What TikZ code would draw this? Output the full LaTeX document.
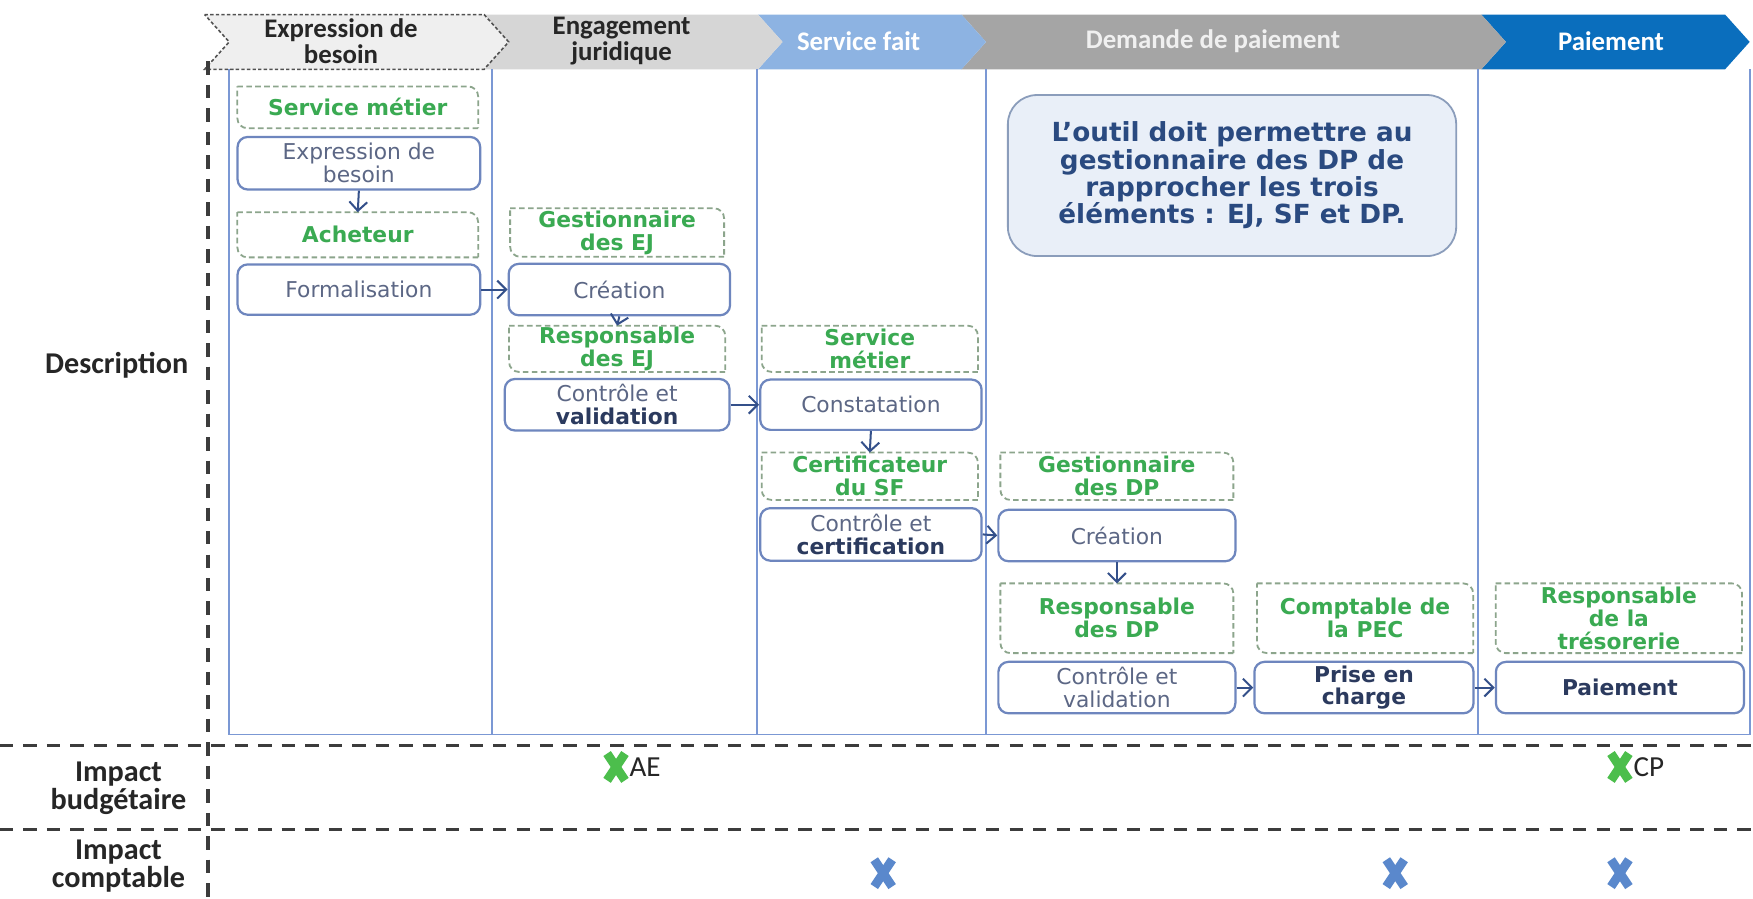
\documentclass[tikz,border=0pt]{standalone}
\usepackage{fontspec}
\setmainfont{DejaVu Sans}
\newfontfamily\dv{DejaVu Sans}
\newfontfamily\cb{Carlito}
\usetikzlibrary{arrows.meta}
\definecolor{rolegreen}{RGB}{58,170,82}
\definecolor{roleborder}{RGB}{140,165,140}
\definecolor{actborder}{RGB}{110,134,190}
\definecolor{acttext}{RGB}{92,103,133}
\definecolor{actbold}{RGB}{43,58,94}
\definecolor{arrowcol}{RGB}{52,80,138}
\definecolor{lanecol}{RGB}{123,152,212}
\definecolor{notefill}{RGB}{233,239,248}
\definecolor{noteborder}{RGB}{139,157,187}
\definecolor{notetext}{RGB}{42,74,128}
\definecolor{chevA}{RGB}{239,239,239}
\definecolor{chevB}{RGB}{214,214,214}
\definecolor{chevC}{RGB}{141,179,226}
\definecolor{chevD}{RGB}{165,165,165}
\definecolor{chevE}{RGB}{10,110,189}
\definecolor{darktext}{RGB}{38,38,38}
\definecolor{xgreen}{RGB}{76,190,76}
\definecolor{xblue}{RGB}{90,136,204}
\newcommand\drawrole[1]{%
  \draw[rolebd] (#1.north west) -- (#1.north east) -- (#1.south east);
  \draw[rolebd] (#1.south east) -- (#1.south west) -- (#1.north west);}
\begin{document}
\begin{tikzpicture}[x=1pt,y=-1pt,
  rolebox/.style={inner sep=0pt, align=center, text=rolegreen,
    font=\dv\bfseries\fontsize{19.5}{20.5}\selectfont},
  rolebd/.style={draw=roleborder, line width=1.6pt, dash pattern=on 5pt off 3pt, rounded corners=9pt},
  actbox/.style={draw=actborder, line width=2pt, rounded corners=9pt, fill=white, inner sep=0pt,
    align=center, text=acttext, font=\dv\fontsize{19.5}{20.5}\selectfont},
  arr/.style={draw=arrowcol, line width=1.8pt, -{Straight Barb[length=8pt,width=16pt]}},
  lane/.style={draw=lanecol, line width=1.6pt},
  bigdash/.style={draw=darktext!90, line width=3pt, dash pattern=on 12pt off 9pt},
  hdr/.style={align=center, font=\cb\bfseries\fontsize{24}{23}\selectfont},
  side/.style={align=center, text=darktext, font=\cb\bfseries\fontsize{27}{25}\selectfont},
  xmk/.style={line width=8pt}
]
\useasboundingbox (0,0) rectangle (1568,804);
\fill[white] (0,0) rectangle (1568,804);

% header chevrons
\fill[chevE] (1325,13) -- (1543,13) -- (1565,37.5) -- (1543,62) -- (1325,62) -- (1347,37.5) -- cycle;
\fill[chevD] (860,13) -- (1325,13) -- (1347,37.5) -- (1325,62) -- (860,62) -- (882,37.5) -- cycle;
\fill[chevC] (678,13) -- (860,13) -- (882,37.5) -- (860,62) -- (678,62) -- (700,37.5) -- cycle;
\fill[chevB] (433,13) -- (678,13) -- (700,37.5) -- (678,62) -- (433,62) -- (455,37.5) -- cycle;
\filldraw[fill=chevA, draw=darktext!80, line width=1.4pt, dash pattern=on 3pt off 2pt]
  (183,13) -- (433,13) -- (455,37.5) -- (433,62) -- (183,62) -- (205,37.5) -- cycle;
\node[hdr, text=darktext] (h1) at (305,37) {Expression de\\besoin};
\node[hdr, text=darktext] (h2) at (556,37) {Engagement\\juridique};
\node[hdr, text=white] (h3) at (768,37) {Service fait};
\node[hdr, text=white!94!black] (h4) at (1085,37) {Demande de paiement};
\node[hdr, text=white] (h5) at (1441,37) {Paiement};

% lanes
\draw[lane] (205,62) -- (205,657) -- (1565,657) -- (1565,62);
\foreach \lx in {440,677,882,1322} \draw[lane] (\lx,62) -- (\lx,657);

% big dashed separators
\draw[bigdash] (0,667) -- (1568,667);
\draw[bigdash] (0,742) -- (1568,742);
\draw[bigdash] (186,55) -- (186,804);

% side labels
\node[side, anchor=east] (ldesc) at (172,327) {Description};
\node[side] (lbud) at (106,705) {Impact\\budgétaire};
\node[side] (lcpt) at (106,775) {Impact\\comptable};

% lane 1
\node[rolebox, minimum width=215pt, minimum height=37pt] (r1) at (320,96) {Service métier};
\node[actbox, minimum width=217pt, minimum height=47pt] (a1) at (321,146) {Expression de\\besoin};
\node[rolebox, minimum width=215pt, minimum height=40pt] (r2) at (320,210) {Acheteur};
\node[actbox, minimum width=217pt, minimum height=45pt] (a2) at (321,259) {Formalisation};

% lane 2
\node[rolebox, minimum width=191pt, minimum height=43pt] (r3) at (552,208) {Gestionnaire\\des EJ};
\node[actbox, minimum width=198pt, minimum height=46pt] (a3) at (554,259) {Création};
\node[rolebox, minimum width=193pt, minimum height=41pt] (r4) at (552,312) {Responsable\\des EJ};
\node[actbox, minimum width=201pt, minimum height=46pt] (a4) at (552,362) {Contrôle et\\\textcolor{actbold}{\bfseries validation}};

% lane 3
\node[rolebox, minimum width=193pt, minimum height=41pt] (r5) at (778,312) {Service\\métier};
\node[actbox, minimum width=198pt, minimum height=45pt] (a5) at (779,362) {Constatation};
\node[rolebox, minimum width=193pt, minimum height=42pt] (r6) at (778,426) {Certificateur\\du SF};
\node[actbox, minimum width=198pt, minimum height=47pt] (a6) at (779,478) {Contrôle et\\\textcolor{actbold}{\bfseries certification}};

% lane 4
\node[draw=noteborder, fill=notefill, line width=1.6pt, rounded corners=26pt,
  minimum width=401pt, minimum height=144pt, inner sep=0pt, align=center, text=notetext,
  font=\dv\bfseries\fontsize{23.5}{24.5}\selectfont] (note) at (1102,157)
  {L’outil doit permettre au\\gestionnaire des DP de\\rapprocher les trois\\éléments : EJ, SF et DP.};
\node[rolebox, minimum width=208pt, minimum height=42pt] (r7) at (999,426) {Gestionnaire\\des DP};
\node[actbox, minimum width=212pt, minimum height=46pt] (a7) at (999,479) {Création};
\node[rolebox, minimum width=208pt, minimum height=62pt] (r8) at (999,553) {Responsable\\des DP};
\node[rolebox, minimum width=193pt, minimum height=62pt] (r9) at (1221,553) {Comptable de\\la PEC};
\node[actbox, minimum width=212pt, minimum height=46pt] (a8) at (999,615) {Contrôle et\\validation};
\node[actbox, minimum width=196pt, minimum height=46pt, text=actbold, font=\dv\bfseries\fontsize{19.5}{20.5}\selectfont] (a9) at (1220,615) {Prise en\\charge};

% lane 5
\node[rolebox, minimum width=220pt, minimum height=62pt] (r10) at (1448,553) {Responsable\\de la\\trésorerie};
\node[actbox, minimum width=222pt, minimum height=46pt, text=actbold, font=\dv\bfseries\fontsize{19.5}{20.5}\selectfont] (a10) at (1449,615) {Paiement};

% dashed role outlines
\foreach \n in {r1,r2,r3,r4,r5,r6,r7,r8,r9,r10} {\drawrole{\n}}

% connectors
\draw[arr] (a1.south) -- (r2.north);
\draw[arr] (a2.east) -- (a3.west);
\draw[arr] (a3.south) -- (r4.north);
\draw[arr] (a4.east) -- (a5.west);
\draw[arr] (a5.south) -- (r6.north);
\draw[arr] (a6.east) -- (a7.west);
\draw[arr] (a7.south) -- (r8.north);
\draw[arr] (a8.east) -- (a9.west);
\draw[arr] (a9.east) -- (a10.west);

% impact markers
\coordinate (xae) at (551,686);
\coordinate (xcp) at (1449,686);
\coordinate (xc1) at (790,781);
\coordinate (xc2) at (1248,781);
\coordinate (xc3) at (1449,781);
\foreach \c/\col in {xae/xgreen,xcp/xgreen,xc1/xblue,xc2/xblue,xc3/xblue} {
  \draw[xmk, draw=\col] ([shift={(-8,-12)}]\c) -- ([shift={(8,12)}]\c);
  \draw[xmk, draw=\col] ([shift={(-8,12)}]\c) -- ([shift={(8,-12)}]\c);
}
\node[anchor=west, text=darktext, font=\cb\fontsize{26}{26}\selectfont, inner sep=0pt] (tae) at (563,686) {AE};
\node[anchor=west, text=darktext, font=\cb\fontsize{26}{26}\selectfont, inner sep=0pt] (tcp) at (1461,686) {CP};
\end{tikzpicture}
\end{document}
